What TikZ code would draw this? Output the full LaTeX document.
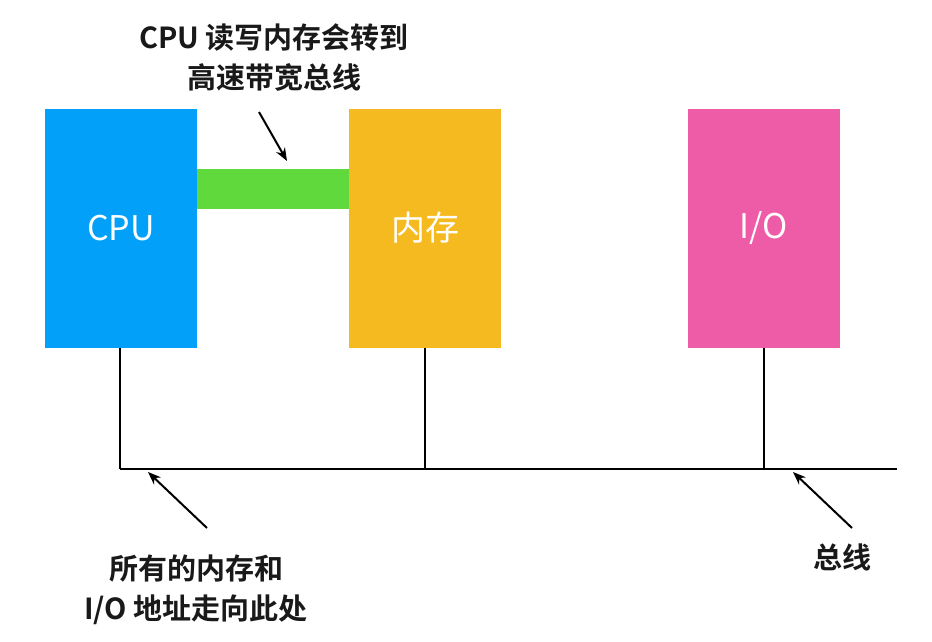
\documentclass[tikz,border=0pt]{standalone}
\usepackage{fontspec}
\setmainfont{Noto Sans CJK SC}[BoldFont={Noto Sans CJK SC Bold}]
\usetikzlibrary{arrows.meta}
\definecolor{cpublue}{HTML}{03A0FA}
\definecolor{memorange}{HTML}{F5BA20}
\definecolor{iopink}{HTML}{EE5CA8}
\definecolor{busgreen}{HTML}{5FD93B}
\tikzset{
  unitbox/.style={rectangle, inner sep=0pt, minimum width=152pt, minimum height=239pt, text=white, font=\fontsize{34}{38}\selectfont},
  busline/.style={line width=2pt, black},
  pointer/.style={line width=2pt, -{Stealth[length=13pt,width=10pt]}},
  caption/.style={align=center, font=\bfseries\fontsize{29}{40}\selectfont, text=black!90}
}
\begin{document}
\begin{tikzpicture}[x=1pt,y=-1pt]
\useasboundingbox (0,0) rectangle (932,642);
\node[unitbox, fill=cpublue] (cpu) at (121,228) {CPU};
\node[unitbox, fill=memorange] (mem) at (425,228) {内存};
\node[unitbox, fill=iopink] (io) at (764,228) {I/O};
\node[rectangle, inner sep=0pt, minimum width=152pt, minimum height=40pt, fill=busgreen] (fast) at (273,189) {};
\coordinate (busL) at (120,469);
\coordinate (busR) at (897,469);
\draw[busline] (busL) -- (busR);
\draw[busline] (cpu.south -| busL) -- (busL);
\draw[busline] (mem.south) -- (mem.south |- busL);
\draw[busline] (io.south) -- (io.south |- busL);
\node[caption] (top) at (274,58) {CPU 读写内存会转到\\高速带宽总线};
\node[caption] (left) at (196,590) {所有的内存和\\I/O 地址走向此处};
\node[caption] (right) at (842,557) {总线};
\coordinate (t1) at (259,112);
\coordinate (t2) at (287,161);
\coordinate (l1) at (207,528);
\coordinate (l2) at (148,472);
\coordinate (r1) at (852,528);
\coordinate (r2) at (793,472);
\draw[pointer] (t1) -- (t2);
\draw[pointer] (l1) -- (l2);
\draw[pointer] (r1) -- (r2);
\end{tikzpicture}
\end{document}
